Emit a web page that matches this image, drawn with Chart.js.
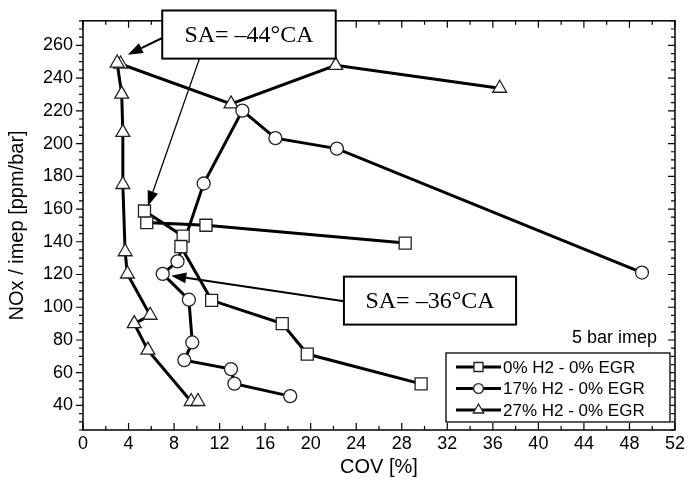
<!DOCTYPE html>
<html>
<head>
<meta charset="utf-8">
<script src="https://cdn.jsdelivr.net/npm/chart.js@4"></script>
<style>
  body { margin: 0; background: #fff; }
  canvas { display: block; }
</style>
</head>
<body>
<canvas id="chart" width="688" height="489"></canvas>
<script>
// Data (COV [%] vs NOx/imep [ppm/bar])
const xTicks = [0, 4, 8, 12, 16, 20, 24, 28, 32, 36, 40, 44, 48, 52];
const yTicks = [40, 60, 80, 100, 120, 140, 160, 180, 200, 220, 240, 260];

const sqX = [28.3, 10.8, 5.6, 5.4, 8.8, 8.6, 11.3, 17.5, 19.7, 29.7];
const sqY = [139.2, 150.1, 151.7, 158.8, 143.4, 137.1, 104.2, 90.0, 71.4, 53.2];

const circX = [49.1, 22.3, 16.9, 14.0, 10.6, 8.3, 7.0, 9.3, 9.6, 8.9, 13.0, 13.3, 18.2];
const circY = [121.2, 196.9, 203.3, 220.1, 175.6, 128.0, 120.4, 104.6, 78.5, 67.7, 62.2, 53.3, 45.7];

const triX = [36.6, 22.2, 13.0, 3.3, 3.0, 3.4, 3.5, 3.5, 3.7, 3.9, 5.9, 4.5, 5.7, 9.5, 10.1];
const triY = [233.8, 247.8, 224.2, 248.6, 249.2, 230.2, 206.8, 175.0, 133.9, 120.3, 95.1, 90.0, 73.8, 42.4, 42.4];

const seriesNames = ["0% H2 - 0% EGR", "17% H2 - 0% EGR", "27% H2 - 0% EGR"];

const SANS = "'Liberation Sans', Arial, Helvetica, sans-serif";
const SERIF = "'Liberation Serif', 'Times New Roman', serif";

const toPts = (xs, ys) => xs.map((x, i) => ({ x: x, y: ys[i] }));

function series(label, xs, ys, style, r) {
  return {
    label: label,
    data: toPts(xs, ys),
    showLine: true,
    borderColor: "#000",
    borderWidth: 3,
    pointStyle: style,
    pointRadius: r,
    pointBackgroundColor: "#fff",
    pointBorderColor: "#222",
    pointBorderWidth: 1.3
  };
}

// little marker painter for the legend
function marker(ctx, style, x, y, r) {
  ctx.beginPath();
  if (style === "rect") {
    const s = r * Math.SQRT1_2;
    ctx.rect(x - s, y - s, 2 * s, 2 * s);
  } else if (style === "circle") {
    ctx.arc(x, y, r, 0, Math.PI * 2);
  } else {
    ctx.moveTo(x, y - r);
    ctx.lineTo(x + r * 0.866, y + r / 2);
    ctx.lineTo(x - r * 0.866, y + r / 2);
    ctx.closePath();
  }
  ctx.fillStyle = "#fff";
  ctx.fill();
  ctx.lineWidth = 1.3;
  ctx.strokeStyle = "#222";
  ctx.stroke();
}

function arrow(ctx, x0, y0, x1, y1, w) {
  const ang = Math.atan2(y1 - y0, x1 - x0);
  const L = 15, H = 5.5;
  const bx = x1 - L * Math.cos(ang), by = y1 - L * Math.sin(ang);
  ctx.lineWidth = w;
  ctx.beginPath();
  ctx.moveTo(x0, y0);
  ctx.lineTo(bx, by);
  ctx.stroke();
  ctx.beginPath();
  ctx.moveTo(x1, y1);
  ctx.lineTo(bx + H * Math.sin(ang), by - H * Math.cos(ang));
  ctx.lineTo(bx - H * Math.sin(ang), by + H * Math.cos(ang));
  ctx.closePath();
  ctx.fill();
}

// SA annotations, in data units
const notes = [
  { text: "SA= \u201344\u00B0CA", box: [6.96, 281.3, 22.2, 251.9],
    arrows: [[6.96, 264.5, 3.94, 254.3, 2], [10.23, 251.9, 5.7, 161.8, 1.3]] },
  { text: "SA= \u201336\u00B0CA", box: [22.92, 118.7, 38.04, 89.4],
    arrows: [[22.92, 103.7, 7.75, 119.3, 2]] }
];

const decor = {
  id: "decor",
  afterDatasetsDraw(chart) {
    const { ctx, chartArea: a, scales: { x, y } } = chart;
    ctx.save();

    // frame + ticks
    ctx.strokeStyle = "#000";
    ctx.lineWidth = 1.5;
    ctx.strokeRect(a.left, a.top, a.right - a.left, a.bottom - a.top);
    ctx.lineWidth = 1.2;
    ctx.beginPath();
    for (let v = 0; v <= 52; v += 2) {
      const px = x.getPixelForValue(v);
      const len = v % 4 === 0 ? 7 : 4;
      ctx.moveTo(px, a.bottom); ctx.lineTo(px, a.bottom - len);
      ctx.moveTo(px, a.top); ctx.lineTo(px, a.top + len);
    }
    for (let v = 25; v <= 275; v += 5) {
      const py = y.getPixelForValue(v);
      const len = v % 20 === 0 ? 7 : 4;
      ctx.moveTo(a.left, py); ctx.lineTo(a.left - len, py);
      ctx.moveTo(a.right, py); ctx.lineTo(a.right - len, py);
    }
    ctx.stroke();

    // annotation boxes and arrows
    ctx.fillStyle = "#000";
    ctx.strokeStyle = "#000";
    notes.forEach(n => {
      n.arrows.forEach(r => {
        arrow(ctx, x.getPixelForValue(r[0]), y.getPixelForValue(r[1]),
          x.getPixelForValue(r[2]), y.getPixelForValue(r[3]), r[4]);
      });
    });
    notes.forEach(n => {
      const l = x.getPixelForValue(n.box[0]), t = y.getPixelForValue(n.box[1]);
      const r = x.getPixelForValue(n.box[2]), b = y.getPixelForValue(n.box[3]);
      ctx.fillStyle = "#fff";
      ctx.fillRect(l, t, r - l, b - t);
      ctx.lineWidth = 2;
      ctx.strokeStyle = "#000";
      ctx.strokeRect(l, t, r - l, b - t);
      ctx.fillStyle = "#000";
      ctx.font = "24px " + SERIF;
      ctx.textAlign = "center";
      ctx.textBaseline = "middle";
      ctx.fillText(n.text, (l + r) / 2, (t + b) / 2 + 1);
    });

    // "5 bar imep" and legend
    ctx.font = "18px " + SANS;
    ctx.textAlign = "right";
    ctx.textBaseline = "middle";
    ctx.fillText("5 bar imep", a.right - 18, a.bottom - 92);

    const lw = 224, lh = 69;
    const lx = a.right - 5 - lw, ly = a.bottom - 8 - lh;
    ctx.fillStyle = "#fff";
    ctx.fillRect(lx, ly, lw, lh);
    ctx.lineWidth = 1.3;
    ctx.strokeRect(lx, ly, lw, lh);
    chart.data.datasets.forEach((ds, i) => {
      const yy = ly + 14 + i * 21.5;
      ctx.strokeStyle = "#000";
      ctx.lineWidth = 3;
      ctx.beginPath();
      ctx.moveTo(lx + 10, yy); ctx.lineTo(lx + 55, yy);
      ctx.stroke();
      marker(ctx, ds.pointStyle, lx + 32.5, yy, ds.pointRadius * 0.75);
      ctx.fillStyle = "#000";
      ctx.font = "17px " + SANS;
      ctx.textAlign = "left";
      ctx.fillText(ds.label, lx + 57, yy + 1);
    });
    ctx.restore();
  }
};

new Chart(document.getElementById("chart"), {
  type: "scatter",
  data: {
    datasets: [
      series(seriesNames[0], sqX, sqY, "rect", 8.5),
      series(seriesNames[1], circX, circY, "circle", 6.5),
      series(seriesNames[2], triX, triY, "triangle", 8)
    ]
  },
  options: {
    responsive: false,
    devicePixelRatio: 1,
    animation: false,
    layout: { padding: { top: 18, right: 11, left: 0, bottom: 0 } },
    plugins: { legend: { display: false }, tooltip: { enabled: false } },
    scales: {
      x: {
        type: "linear", min: 0, max: 52,
        afterFit(s) { s.height = 59; },
        afterBuildTicks(s) { s.ticks = xTicks.map(v => ({ value: v })); },
        ticks: { color: "#000", font: { size: 18, family: SANS }, padding: 3, maxRotation: 0, autoSkip: false },
        grid: { display: false, drawTicks: false },
        border: { display: false },
        title: { display: true, text: "COV [%]", color: "#000", font: { size: 20, family: SANS }, padding: { top: 0, bottom: 10 } }
      },
      y: {
        type: "linear", min: 25, max: 275,
        afterFit(s) { s.width = 83; },
        afterBuildTicks(s) { s.ticks = yTicks.map(v => ({ value: v })); },
        ticks: { color: "#000", font: { size: 18, family: SANS }, padding: 10, autoSkip: false },
        grid: { display: false, drawTicks: false },
        border: { display: false },
        title: { display: true, text: "NOx / imep [ppm/bar]", color: "#000", font: { size: 20, family: SANS }, padding: { top: 5, bottom: 0 } }
      }
    }
  },
  plugins: [decor]
});
</script>
</body>
</html>
